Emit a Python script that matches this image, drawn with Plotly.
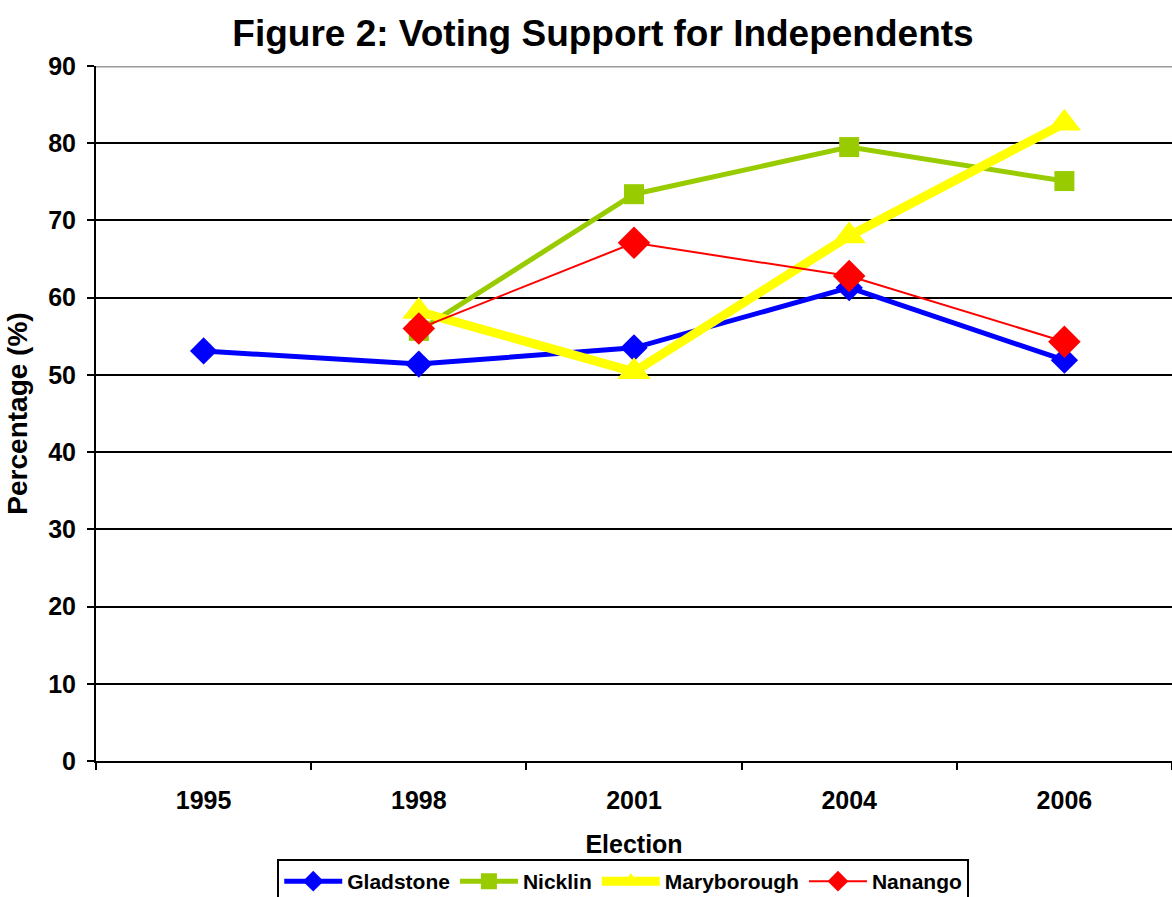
import plotly.graph_objects as go

elections = ["1995", "1998", "2001", "2004", "2006"]
gladstone = [53.1, 51.4, 53.5, 61.3, 51.9]
nicklin = [None, 55.7, 73.4, 79.5, 75.1]
maryborough = [None, 58.2, 50.4, 68.0, 82.6]
nanango = [None, 56.0, 67.1, 62.8, 54.3]

FONT = "Liberation Sans, Arial, sans-serif"

fig = go.Figure()
fig.add_trace(go.Scatter(x=elections, y=gladstone, name="<b>Gladstone</b>", mode="lines+markers",
                         line=dict(color="#0000FF", width=5),
                         marker=dict(symbol="diamond", size=21, color="#0000FF")))
fig.add_trace(go.Scatter(x=elections, y=nicklin, name="<b>Nicklin</b>", mode="lines+markers",
                         line=dict(color="#99CC00", width=5),
                         marker=dict(symbol="square", size=20, color="#99CC00")))
fig.add_trace(go.Scatter(x=elections, y=maryborough, name="<b>Maryborough</b>", mode="lines+markers",
                         line=dict(color="#FFFF00", width=9),
                         marker=dict(symbol="triangle-up", size=29, color="#FFFF00")))
fig.add_trace(go.Scatter(x=elections, y=nanango, name="<b>Nanango</b>", mode="lines+markers",
                         line=dict(color="#FF0000", width=2),
                         marker=dict(symbol="diamond", size=25, color="#FF0000")))

fig.update_layout(
    width=1172, height=897,
    margin=dict(l=96, r=0, t=66, b=136, autoexpand=False),
    paper_bgcolor="white", plot_bgcolor="white",
    font=dict(family=FONT, color="black"),
    title=dict(text="<b>Figure 2: Voting Support for Independents</b>", x=0.5145, xanchor="center",
               xref="container", y=0.963, yanchor="middle", yref="container",
               font=dict(size=37, family=FONT)),
    showlegend=True,
    legend=dict(orientation="h", x=0.49, xanchor="center", y=-0.141, yanchor="top",
                bordercolor="black", borderwidth=2, font=dict(size=21, family=FONT),
                itemwidth=58, tracegroupgap=0),
    xaxis=dict(type="category", range=[-0.5, 4.5], tickson="boundaries", ticks="outside",
               ticklen=7, tickwidth=2, tickcolor="black", showline=True, linecolor="black",
               linewidth=2, showgrid=False, tickfont=dict(size=25, family=FONT),
               ticklabelstandoff=16, automargin=False,
               tickprefix="<b>", ticksuffix="</b>",
               title=dict(text="<b>Election</b>", font=dict(size=25, family=FONT), standoff=22)),
    yaxis=dict(range=[0, 90], dtick=10, ticks="outside", ticklen=7, tickwidth=2,
               tickcolor="black", showline=True, linecolor="black", linewidth=2,
               gridcolor="black", gridwidth=2, zeroline=False,
               tickfont=dict(size=25, family=FONT), ticklabelstandoff=6, automargin=False,
               tickprefix="<b>", ticksuffix="</b>",
               title=dict(text="<b>Percentage (%)</b>", font=dict(size=28, family=FONT), standoff=12)),
)
fig.add_shape(type="line", xref="paper", yref="y", x0=0, x1=1, y0=90, y1=90,
              line=dict(color="#999999", width=3), layer="above")

fig.write_html("out.html")
